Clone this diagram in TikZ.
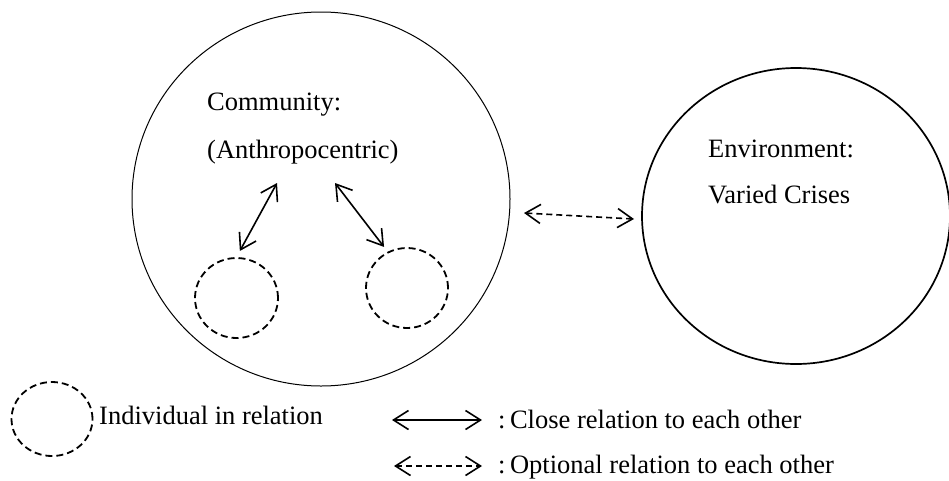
\documentclass[tikz,border=0pt]{standalone}
\usepackage{fontspec}
\setmainfont{Liberation Serif}
\usetikzlibrary{arrows.meta,shapes.geometric}
\begin{document}
\begin{tikzpicture}[x=1pt,y=-1pt,
  lbl/.style={anchor=base west, inner sep=0pt, font=\fontsize{26.5}{31}\selectfont},
  bigc/.style={draw, ellipse, inner sep=0pt},
  indiv/.style={draw, ellipse, inner sep=0pt, line width=1.8pt, dash pattern=on 7pt off 4pt},
  rel/.style={line width=1.6pt, {Straight Barb[length=15pt,width=19pt]}-{Straight Barb[length=15pt,width=19pt]}},
  opt/.style={rel, dash pattern=on 6pt off 4pt},
]
\useasboundingbox (0,0) rectangle (949,480);

% big circles
\node[bigc, line width=1pt, minimum width=378pt, minimum height=374pt] (comm) at (321,199) {};
\node[bigc, line width=1.7pt, minimum width=308pt, minimum height=296pt] (env) at (796,216) {};

% individuals
\node[indiv, minimum width=83pt, minimum height=80pt] (ind1) at (236.5,298) {};
\node[indiv, minimum width=82pt, minimum height=80pt] (ind2) at (407,288) {};
\node[indiv, minimum width=81pt, minimum height=74pt] (legc) at (52,419) {};

% texts
\node[lbl] (t1) at (207,110) {Community:};
\node[lbl] (t2) at (207,158) {(Anthropocentric)};
\node[lbl] (t3) at (708,157) {Environment:};
\node[lbl] (t4) at (708,203) {Varied Crises};
\node[lbl] (t5) at (99,424) {Individual in relation};
\node[lbl] (t6) at (498,428) {:\hspace{4.5pt}Close relation to each other};
\node[lbl] (t7) at (498,473) {:\hspace{4.5pt}Optional relation to each other};

% relations inside the community
\coordinate (a1) at (277,183);
\coordinate (a2) at (335,183);
\draw[rel, shorten >=7pt] (a1) -- (ind1.north);
\draw[rel, shorten >=6pt] (a2) -- (ind2.118);

% optional relation community - environment
\coordinate (o1) at (524,213);
\coordinate (o2) at (634,219);
\draw[opt] (o1) -- (o2);

% legend arrows
\coordinate (l1a) at (392,420);
\coordinate (l1b) at (482,420);
\coordinate (l2a) at (394,466);
\coordinate (l2b) at (482,466);
\draw[rel] (l1a) -- (l1b);
\draw[opt] (l2a) -- (l2b);
\end{tikzpicture}
\end{document}
